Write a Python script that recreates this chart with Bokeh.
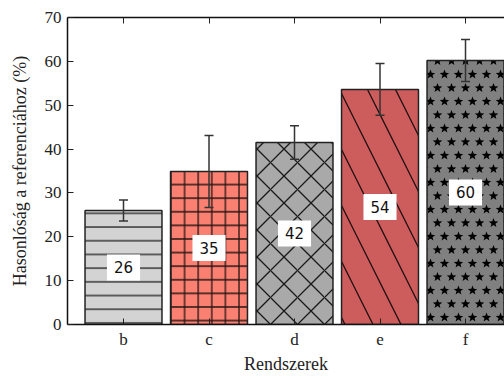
import base64
import math
from bokeh.plotting import figure
from bokeh.models import (ColumnDataSource, Range1d, LinearAxis, FixedTicker,
                          Whisker, TeeHead, ImageURLTexture)
from bokeh.core.properties import value
from bokeh.embed import file_html
from bokeh.resources import INLINE

# ---- data ----
categories = ["b", "c", "d", "e", "f"]
values = [26.0, 34.9, 41.5, 53.6, 60.2]
errors = [2.4, 8.2, 3.8, 5.9, 4.8]
labels = ["26", "35", "42", "54", "60"]
y_ticks = [0, 10, 20, 30, 40, 50, 60, 70]

# ---- styling ----
fill_colors = ["#d3d3d3", "#fa8072", "#a9a9a9", "#cd5c5c", "#808080"]
hatches = ["-", "+", "x", "\\", "star"]
hatch_scales = [13.7, 13.6, 27.0, 56.0, 12.0]

# star texture tile (staggered stars)
def star_points(cx, cy, ro, ri):
    pts = []
    for i in range(10):
        r = ro if i % 2 == 0 else ri
        a = -math.pi / 2 + i * math.pi / 5
        pts.append(f"{cx + r * math.cos(a):.2f},{cy + r * math.sin(a):.2f}")
    return " ".join(pts)

tw, th = 14, 27
svg = (f'<svg xmlns="http://www.w3.org/2000/svg" width="{tw}" height="{th}">'
       f'<polygon points="{star_points(3.5, 7.0, 5.0, 2.1)}" fill="black"/>'
       f'<polygon points="{star_points(10.5, 20.5, 5.0, 2.1)}" fill="black"/>'
       f'<polygon points="{star_points(-3.5, 20.5, 5.0, 2.1)}" fill="black"/>'
       f'<polygon points="{star_points(17.5, 7.0, 5.0, 2.1)}" fill="black"/>'
       '</svg>')
star_url = "data:image/svg+xml;base64," + base64.b64encode(svg.encode()).decode()

x = list(range(len(categories)))
src = ColumnDataSource(dict(
    x=x, top=values, color=fill_colors, hatch=hatches, hscale=hatch_scales,
    upper=[v + e for v, e in zip(values, errors)],
    lower=[v - e for v, e in zip(values, errors)],
    ly=[v / 2 for v in values], label=labels,
))

p = figure(width=504, height=376, frame_width=437, frame_height=307,
           output_backend="svg", toolbar_location=None,
           x_range=Range1d(-0.655, 4.456), y_range=Range1d(0, 70),
           min_border_left=67, min_border_right=0, min_border_top=17,
           min_border_bottom=52)
p.outline_line_color = None
p.grid.visible = False
p.background_fill_color = "white"

p.vbar(x="x", top="top", width=0.9, source=src, fill_color="color",
       line_color="#222222", line_width=1.5,
       hatch_pattern="hatch", hatch_scale="hscale", hatch_color="black",
       hatch_weight=1.3, hatch_alpha=0.85,
       hatch_extra={"star": ImageURLTexture(url=star_url)})

w = Whisker(base="x", upper="upper", lower="lower", source=src, level="annotation",
            line_color="#333333", line_width=1.5,
            upper_head=TeeHead(size=9, line_color="#333333", line_width=1.5),
            lower_head=TeeHead(size=9, line_color="#333333", line_width=1.5))
p.add_layout(w)

p.text(x="x", y="ly", text="label", source=src,
       text_align="center", text_baseline="middle",
       text_font=value("DejaVu Sans"), text_font_size="15px", text_color="#111111",
       background_fill_color="white", padding=7)

serif = "Liberation Serif"
# bottom axis
xa = p.xaxis[0]
xa.ticker = FixedTicker(ticks=x)
xa.major_label_overrides = {i: c for i, c in zip(x, categories)}
xa.axis_label = "Rendszerek"
for ax in [xa, p.yaxis[0]]:
    ax.axis_label_text_font = serif
    ax.axis_label_text_font_style = "normal"
    ax.axis_label_text_font_size = "18px"
    ax.axis_label_text_color = "#222222"
    ax.major_label_text_font = serif
    ax.major_label_text_font_size = "17px"
    ax.major_label_text_color = "#222222"
    ax.major_tick_in = 6
    ax.major_tick_out = 0
    ax.minor_tick_in = 0
    ax.minor_tick_out = 0
    ax.axis_line_width = 1.5
    ax.axis_line_color = "#111111"
    ax.major_tick_line_color = "#222222"
    ax.major_label_standoff = 6
xa.axis_label_standoff = 2
xa.major_label_standoff = 5

ya = p.yaxis[0]
ya.ticker = FixedTicker(ticks=y_ticks)
ya.axis_label = "Hasonlóság a referenciához (%)"
ya.axis_label_standoff = 12

# top axis (spine with inward ticks, no labels)
top = LinearAxis(ticker=FixedTicker(ticks=x), major_label_text_font_size="0px",
                 major_tick_in=6, major_tick_out=0, minor_tick_in=0, minor_tick_out=0,
                 axis_line_width=1.5, axis_line_color="#111111",
                 major_tick_line_color="#222222", major_label_standoff=0)
p.add_layout(top, "above")

open("out.html", "w").write(file_html(p, INLINE))
